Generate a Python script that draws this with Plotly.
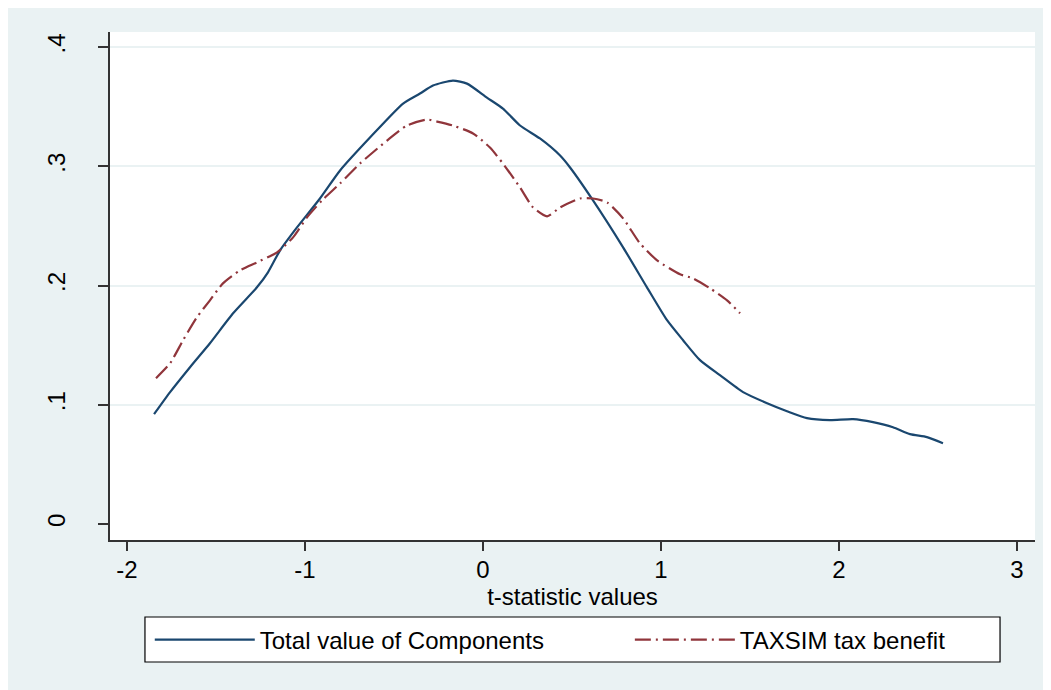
import plotly.graph_objects as go

# Kernel density estimates
total_x = [-1.848, -1.758, -1.646, -1.534, -1.404, -1.270, -1.208, -1.140, -1.045, -0.916,
           -0.803, -0.635, -0.449, -0.354, -0.281, -0.169, -0.090, 0.022, 0.112, 0.208,
           0.320, 0.433, 0.489, 0.618, 0.787, 0.921, 1.034, 1.124, 1.219, 1.331,
           1.461, 1.596, 1.708, 1.820, 1.949, 2.079, 2.191, 2.303, 2.399, 2.494, 2.584]
total_y = [0.0921, 0.1106, 0.1315, 0.1516, 0.1767, 0.1985, 0.2111, 0.2295, 0.2487, 0.2730,
           0.2965, 0.3241, 0.3526, 0.3610, 0.3677, 0.3719, 0.3693, 0.3576, 0.3484, 0.3342,
           0.3233, 0.3090, 0.2990, 0.2714, 0.2320, 0.1985, 0.1709, 0.1541, 0.1374, 0.1248,
           0.1106, 0.1013, 0.0946, 0.0888, 0.0871, 0.0879, 0.0854, 0.0812, 0.0754, 0.0729, 0.0678]

taxsim_x = [-1.837, -1.758, -1.685, -1.607, -1.534, -1.461, -1.365, -1.270, -1.157, -1.067,
            -0.989, -0.904, -0.803, -0.691, -0.539, -0.427, -0.315, -0.258, -0.169, -0.056,
            0.039, 0.112, 0.208, 0.281, 0.360, 0.433, 0.545, 0.618, 0.697, 0.787,
            0.882, 0.978, 1.107, 1.180, 1.275, 1.371, 1.444]
taxsim_y = [0.1223, 0.1348, 0.1541, 0.1734, 0.1876, 0.2018, 0.2127, 0.2194, 0.2278, 0.2404,
            0.2571, 0.2714, 0.2856, 0.3023, 0.3216, 0.3342, 0.3392, 0.3375, 0.3342, 0.3275,
            0.3157, 0.3023, 0.2822, 0.2655, 0.2580, 0.2655, 0.2730, 0.2730, 0.2697, 0.2563,
            0.2353, 0.2211, 0.2094, 0.2060, 0.1977, 0.1876, 0.1767]

x_ticks = [-2, -1, 0, 1, 2, 3]
x_ticktext = ["-2", "-1", "0", "1", "2", "3"]
y_ticks = [0, 0.1, 0.2, 0.3, 0.4]
y_ticktext = ["0", ".1", ".2", ".3", ".4"]

series_names = ["Total value of Components", "TAXSIM tax benefit"]

FONT = "Liberation Sans, Arial, sans-serif"
BG = "#eaf2f3"
AXIS = "#333333"
FS = 24

fig = go.Figure()
fig.add_trace(go.Scatter(
    x=total_x, y=total_y, mode="lines", name=series_names[0],
    line=dict(color="#1a476f", width=2.2, shape="spline", smoothing=0.6),
    legend="legend",
))
fig.add_trace(go.Scatter(
    x=taxsim_x, y=taxsim_y, mode="lines", name=series_names[1],
    line=dict(color="#90353b", width=2.2, shape="spline", smoothing=0.6,
              dash="16px,5px,2px,5px"),
    legend="legend2",
))

legend_common = dict(
    orientation="h",
    yanchor="middle", y=-0.1969,
    xanchor="left",
    bgcolor="rgba(0,0,0,0)", borderwidth=0,
    font=dict(size=FS, color="black"),
    itemwidth=100,
)

# The page places the figure 8px in from the top-left corner of the window,
# so the figure is drawn 8px smaller to fit the 1051x690 window exactly.
fig.update_layout(
    width=1043, height=682,
    margin=dict(l=102, r=16, t=24, b=150, autoexpand=False),
    paper_bgcolor="white",
    plot_bgcolor="white",
    font=dict(family=FONT, size=FS, color="black"),
    shapes=[
        dict(type="rect", xref="paper", yref="paper", layer="below",
             x0=-0.12, x1=1.02, y0=-0.31, y1=1.06,
             fillcolor=BG, line=dict(width=0)),
        dict(type="rect", xref="paper", yref="paper", layer="below",
             x0=0, x1=1, y0=0, y1=1,
             fillcolor="white", line=dict(width=0)),
        dict(type="rect", xref="paper", yref="paper", layer="below",
             x0=0.0378, x1=0.9622, y0=-0.2402, y1=-0.1516,
             fillcolor="white", line=dict(color="black", width=1.2)),
    ],
    xaxis=dict(
        range=[-2.0955, 3.101],
        tickvals=x_ticks, ticktext=x_ticktext,
        ticks="outside", ticklen=9, tickwidth=1.5, tickcolor=AXIS,
        showline=True, linecolor=AXIS, linewidth=1.5,
        showgrid=False, zeroline=False, automargin=False,
        ticklabelstandoff=-2,
        tickfont=dict(size=FS),
        title=dict(text="t-statistic values", font=dict(size=FS), standoff=0),
    ),
    yaxis=dict(
        range=[-0.0134, 0.4126],
        tickvals=y_ticks, ticktext=y_ticktext,
        tickangle=-90,
        ticks="outside", ticklen=10, tickwidth=1.5, tickcolor=AXIS,
        showline=True, linecolor=AXIS, linewidth=1.5,
        showgrid=True, gridcolor=BG, gridwidth=2,
        zeroline=True, zerolinecolor="white", zerolinewidth=3,
        automargin=False,
        ticklabelstandoff=24,
        tickfont=dict(size=FS),
    ),
    showlegend=True,
    legend=dict(legend_common, x=0.0430),
    legend2=dict(legend_common, x=0.5620),
)

fig.write_html("out.html")
